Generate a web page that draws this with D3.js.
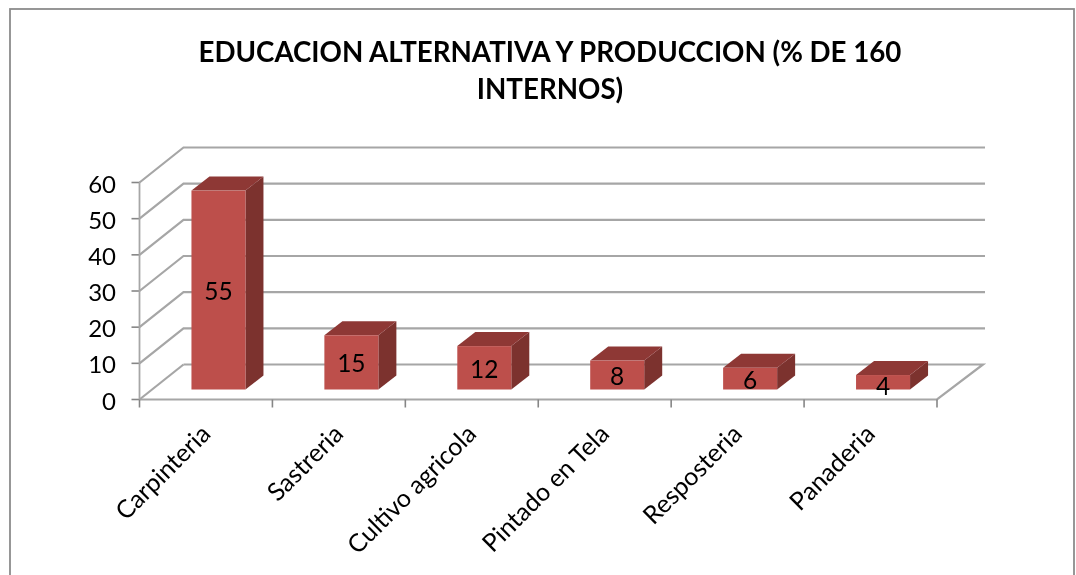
<!DOCTYPE html>
<html><head><meta charset="utf-8">
<script src="https://cdn.jsdelivr.net/npm/d3@7"></script>
<style>html,body{margin:0;padding:0;background:#fff}svg{display:block}text{font-family:Lato,"Open Sans",sans-serif;fill:#000}</style>
</head><body><svg id="c" width="1076" height="575"></svg>
<script>
const categories=["Carpinteria","Sastreria","Cultivo agricola","Pintado en Tela","Resposteria","Panaderia"];
const values=[55,15,12,8,6,4];
const yTicks=[0,10,20,30,40,50,60];
const titleLines=["EDUCACION ALTERNATIVA Y PRODUCCION (% DE 160","INTERNOS)"];

const svg=d3.select("#c");
svg.append("defs").append("filter").attr("id","soft").append("feGaussianBlur").attr("stdDeviation",0.45);
const root=svg.append("g").attr("filter","url(#soft)");
const x=d3.scaleBand().domain(categories).range([139.5,937]);
const y=d3.scaleLinear().domain([0,60]).range([399.5,182.5]);
const depthX=44,depthY=35;
const grid="#a6a6a6",tick="#868686";

root.append("rect").attr("x",10).attr("y",9).attr("width",1064).attr("height",580)
  .attr("fill","#fff").attr("stroke","#8c8c8c").attr("stroke-width",1.8);

const title=root.append("text").attr("text-anchor","middle").attr("font-size",27.7).attr("font-weight",700);
titleLines.forEach((t,i)=>title.append("tspan").attr("x",550).attr("y",62+i*37).text(t));

const x0=x.range()[0],x1=x.range()[1];
yTicks.forEach(v=>{
  const yy=y(v);
  root.append("path").attr("d",`M${x0},${yy}L${x0+depthX},${yy-depthY}`+(v>0?`L${985},${yy-depthY}`:""))
    .attr("fill","none").attr("stroke",grid).attr("stroke-width",2.2);
  root.append("line").attr("x1",x0-8).attr("x2",x0).attr("y1",yy).attr("y2",yy).attr("stroke",tick).attr("stroke-width",1.6);
  root.append("text").attr("x",116).attr("y",yy+10).attr("text-anchor","end").attr("font-size",24).text(v);
});
root.append("path").attr("d",`M${x0+depthX},${y(0)-depthY}L${983},${y(0)-depthY}L${x1},${y(0)}L${x0},${y(0)}`)
  .attr("fill","none").attr("stroke",grid).attr("stroke-width",2.2);
root.append("line").attr("x1",x0).attr("x2",x0).attr("y1",y(0)).attr("y2",y(60)).attr("stroke",grid).attr("stroke-width",1.8);

[...categories.map(c=>x(c)),x1].forEach(px=>{
  root.append("line").attr("x1",px).attr("x2",px).attr("y1",y(0)).attr("y2",y(0)+8).attr("stroke",tick).attr("stroke-width",1.6);
});

const barW=54,offX=12.5,floorLift=10,dx=18,dy=14;
categories.forEach((c,i)=>{
  const l=x(c)+x.bandwidth()/2+offX-barW/2, r=l+barW;
  const h=y(0)-y(values[i]);
  const b=y(0)-floorLift, t=b-h;
  const g=root.append("g");
  g.append("path").attr("d",`M${r},${t}L${r+dx},${t-dy}L${r+dx},${b-dy}L${r},${b}Z`).attr("fill","#7c302e");
  g.append("path").attr("d",`M${l},${t}L${l+dx},${t-dy}L${r+dx},${t-dy}L${r},${t}Z`).attr("fill","#8e3836");
  g.append("rect").attr("x",l).attr("y",t).attr("width",barW).attr("height",h).attr("fill","#bd4f4c");
  g.append("text").attr("x",l+barW/2).attr("y",(t+b)/2+10+(values[i]<5?3:0))
    .attr("text-anchor","middle").attr("font-size",24.5).text(values[i]);
  const ax=x(c)+x.bandwidth()/2+6, ay=y(0)+36;
  root.append("text").attr("transform",`translate(${ax},${ay}) rotate(-45)`).attr("text-anchor","end").attr("font-size",25).text(c);
});
</script></body></html>
